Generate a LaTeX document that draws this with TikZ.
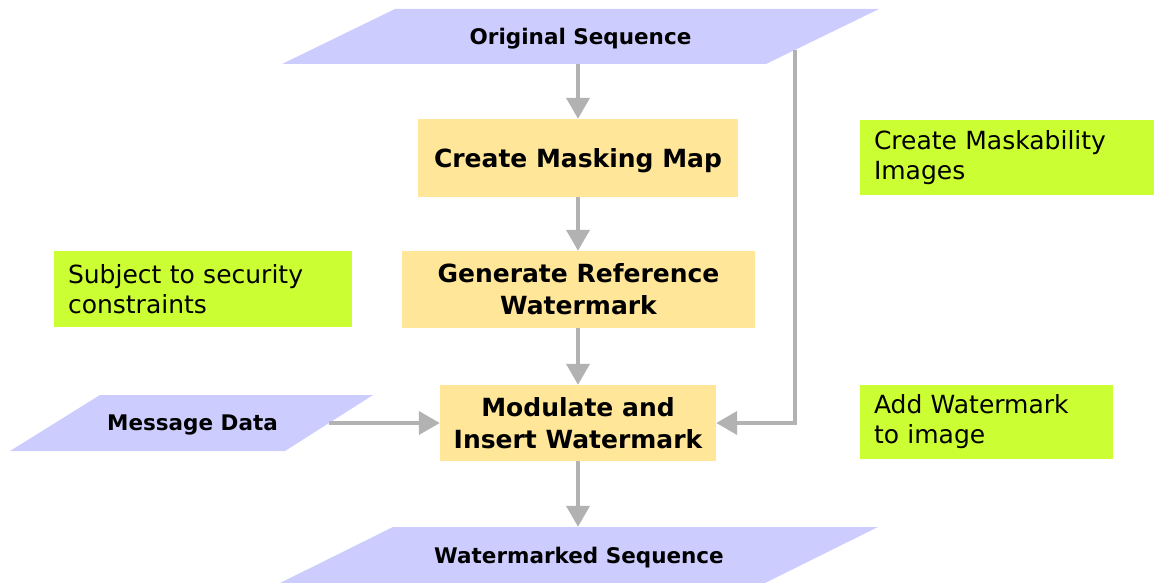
\documentclass[tikz,border=0pt]{standalone}
\usepackage{fontspec}
\setmainfont{DejaVu Sans}
\usetikzlibrary{arrows.meta}
\definecolor{para}{HTML}{CCCCFF}
\definecolor{yel}{HTML}{FFE699}
\definecolor{grn}{HTML}{CCFF33}
\definecolor{arr}{HTML}{B2B2B2}
\tikzset{
  proc/.style={fill=yel, inner sep=0pt, text depth=0pt, align=center, font=\bfseries\fontsize{25}{32}\selectfont},
  note/.style={fill=grn, inner xsep=14pt, inner ysep=0pt, align=left, font=\fontsize{25}{30}\selectfont},
  io/.style={inner sep=0pt, text depth=0pt, font=\bfseries\fontsize{21.5}{25}\selectfont},
  para/.style={fill=para},
  conn/.style={draw=arr, line width=4pt, -{Triangle[length=21pt,width=23pt]}}
}
\begin{document}
\begin{tikzpicture}[x=1pt,y=-1pt]
\useasboundingbox (0,0) rectangle (1154,583);
% parallelogram fills
\fill[para] (395,9) -- (879,9) -- (766,64) -- (282,64) -- cycle;
\fill[para] (393,527) -- (878,527) -- (765,583) -- (280,583) -- cycle;
\fill[para] (100,395) -- (373,395) -- (285,451) -- (10,451) -- cycle;
% io nodes
\node[io, minimum width=371pt, minimum height=55pt] (orig) at (580.5,36.5) {Original Sequence};
\node[io, minimum width=372pt, minimum height=56pt] (wm) at (579,555) {Watermarked Sequence};
\node[io, minimum width=185pt, minimum height=56pt] (msg) at (192.5,423) {Message Data};
% process boxes
\node[proc, minimum width=320pt, minimum height=78pt] (mask) at (578,158) {Create Masking Map};
\node[proc, minimum width=353pt, minimum height=77pt] (gen) at (578.5,289.5) {Generate Reference\\Watermark};
\node[proc, minimum width=276pt, minimum height=76pt] (mod) at (578,423) {Modulate and\\Insert Watermark};
% notes
\node[note, text width=266pt, minimum height=75pt] (maskab) at (1007,157.5) {Create Maskability\\Images};
\node[note, text width=270pt, minimum height=76pt] (sec) at (203,289) {Subject to security\\constraints};
\node[note, text width=225pt, minimum height=74pt] (add) at (986.5,422) {Add Watermark\\to image};
% connectors
\coordinate (tap) at (795,50);
\coordinate (msgout) at (329,423);
\draw[conn] (orig.south -| mask.north) -- (mask.north);
\draw[conn] (mask.south) -- (mask.south |- gen.north);
\draw[conn] (gen.south -| mod.north) -- (mod.north);
\draw[conn] (mod.south) -- (mod.south |- wm.north);
\draw[conn] (msgout) -- (mod.west);
\draw[conn] (tap) |- (mod.east);
\end{tikzpicture}
\end{document}
